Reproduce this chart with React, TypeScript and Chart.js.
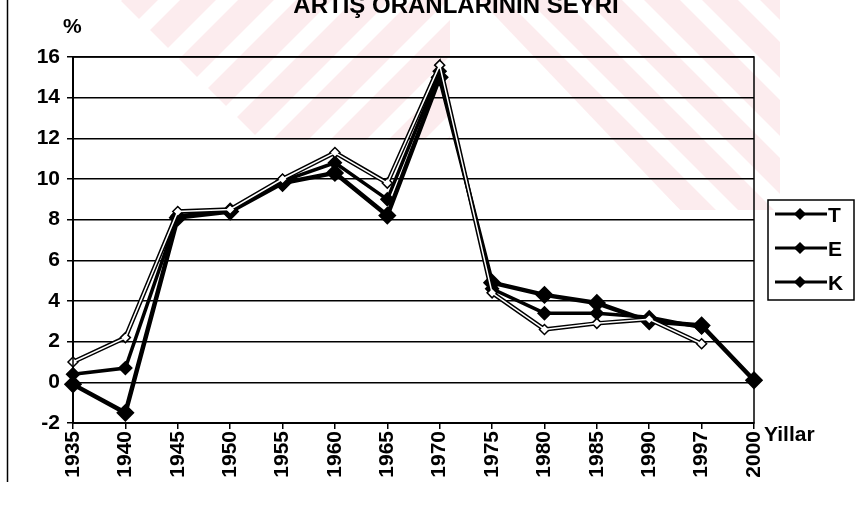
import React, { useEffect, useRef } from 'react';
import { Chart, registerables } from 'chart.js';

Chart.register(...registerables);

const FONT = '"Liberation Sans", Arial, Helvetica, sans-serif';
const TITLE = 'ARTIŞ ORANLARININ SEYRI';
const Y_UNIT = '%';
const X_UNIT = 'Yillar';

const years = ['1935', '1940', '1945', '1950', '1955', '1960', '1965', '1970', '1975', '1980', '1985', '1990', '1997', '2000'];
const seriesT = [0.4, 0.7, 8.2, 8.4, 9.9, 10.8, 9.0, 15.3, 4.6, 3.4, 3.4, 3.2, 2.7, null];
const seriesE = [1.0, 2.2, 8.4, 8.5, 10.0, 11.3, 9.8, 15.6, 4.4, 2.6, 2.9, 3.1, 1.9, null];
const seriesK = [-0.1, -1.5, 8.1, 8.4, 9.8, 10.3, 8.2, 15.0, 4.9, 4.3, 3.9, 3.0, 2.8, 0.1];
const legendLabels = ['T', 'E', 'K'];

function diamond(ctx: CanvasRenderingContext2D, x: number, y: number, r: number, fill: string) {
  ctx.beginPath();
  ctx.moveTo(x, y - r);
  ctx.lineTo(x + r, y);
  ctx.lineTo(x, y + r);
  ctx.lineTo(x - r, y);
  ctx.closePath();
  ctx.fillStyle = fill;
  ctx.fill();
  ctx.strokeStyle = '#000';
  ctx.lineWidth = 1.5;
  ctx.stroke();
}

function stripes(ctx: CanvasRenderingContext2D, poly: number[][], dir: number) {
  ctx.save();
  ctx.beginPath();
  poly.forEach(([x, y], i) => (i ? ctx.lineTo(x, y) : ctx.moveTo(x, y)));
  ctx.closePath();
  ctx.clip();
  ctx.fillStyle = 'rgba(225, 40, 70, 0.09)';
  for (let s = -400; s < 1300; s += 58) {
    ctx.beginPath();
    ctx.moveTo(s, 0);
    ctx.lineTo(s + 36, 0);
    ctx.lineTo(s + 36 + dir * 300, 300);
    ctx.lineTo(s + dir * 300, 300);
    ctx.closePath();
    ctx.fill();
  }
  ctx.restore();
}

export default function App() {
  const ref = useRef<HTMLCanvasElement>(null);

  useEffect(() => {
    document.body.style.margin = '0';
    const extras = {
      id: 'extras',
      beforeDraw(chart: any) {
        const ctx = chart.ctx as CanvasRenderingContext2D;
        ctx.save();
        ctx.fillStyle = '#fff';
        ctx.fillRect(0, 0, chart.width, chart.height);
        stripes(ctx, [[120, 0], [450, 0], [450, 140], [260, 140]], -1);
        stripes(ctx, [[480, 0], [780, 0], [780, 210], [680, 210]], 1);
        ctx.restore();
      },
      afterDraw(chart: any) {
        const ctx = chart.ctx as CanvasRenderingContext2D;
        const a = chart.chartArea;
        ctx.save();
        ctx.strokeStyle = '#000';
        ctx.lineWidth = 1.5;
        ctx.strokeRect(a.left, a.top, a.right - a.left, a.bottom - a.top);
        ctx.beginPath();
        ctx.moveTo(7.5, 0);
        ctx.lineTo(7.5, 482);
        ctx.stroke();

        ctx.fillStyle = '#000';
        ctx.textBaseline = 'alphabetic';
        ctx.font = `bold 24px ${FONT}`;
        ctx.textAlign = 'center';
        ctx.fillText(TITLE, 456, 13);
        ctx.font = `bold 21px ${FONT}`;
        ctx.textAlign = 'left';
        ctx.fillText(Y_UNIT, 63, 33);
        ctx.fillText(X_UNIT, a.right + 10, a.bottom + 18);

        // legend box
        const lx = a.right + 14;
        const ly = a.top + 143;
        ctx.lineWidth = 1.5;
        ctx.strokeStyle = '#000';
        ctx.strokeRect(lx, ly, 86, 100);
        ctx.font = `bold 21px ${FONT}`;
        legendLabels.forEach((lab, i) => {
          const y = ly + 14 + i * 34;
          ctx.beginPath();
          ctx.moveTo(lx + 7, y);
          ctx.lineTo(lx + 59, y);
          ctx.lineWidth = 3;
          ctx.stroke();
          diamond(ctx, lx + 32, y, 5, '#000');
          ctx.fillStyle = '#000';
          ctx.fillText(lab, lx + 60, y + 8);
        });
        ctx.restore();
      },
    };

    const chart = new Chart(ref.current as HTMLCanvasElement, {
      type: 'line',
      data: {
        labels: years,
        datasets: [
          {
            label: 'E-core',
            data: seriesE,
            borderColor: '#fff',
            borderWidth: 1.5,
            pointRadius: 0,
            order: 0,
          },
          {
            label: 'E',
            data: seriesE,
            borderColor: '#000',
            borderWidth: 4.5,
            pointStyle: 'rectRot',
            pointRadius: 5,
            pointBackgroundColor: '#fff',
            pointBorderColor: '#000',
            pointBorderWidth: 1.5,
            order: 1,
          },
          {
            label: 'T',
            data: seriesT,
            borderColor: '#000',
            borderWidth: 3.5,
            pointStyle: 'rectRot',
            pointRadius: 5,
            pointBackgroundColor: '#000',
            pointBorderColor: '#000',
            order: 2,
          },
          {
            label: 'K',
            data: seriesK,
            borderColor: '#000',
            borderWidth: 4.5,
            pointStyle: 'rectRot',
            pointRadius: 6,
            pointBackgroundColor: '#000',
            pointBorderColor: '#000',
            order: 3,
          },
        ],
      },
      options: {
        responsive: false,
        animation: false,
        devicePixelRatio: 1,
        layout: { padding: { top: 57, right: 114, bottom: 0, left: 0 } },
        plugins: {
          legend: { display: false },
          tooltip: { enabled: false },
          title: { display: false },
        },
        scales: {
          x: {
            offset: false,
            grid: {
              display: true,
              drawOnChartArea: false,
              drawTicks: true,
              tickLength: 6,
              color: '#000',
              lineWidth: 1.5,
            },
            border: { color: '#000', width: 2 },
            ticks: {
              color: '#000',
              font: { family: FONT, size: 21, weight: 'bold' },
              minRotation: 90,
              maxRotation: 90,
              padding: 2,
              autoSkip: false,
            },
            afterFit(s: any) {
              s.height = 86;
            },
          },
          y: {
            min: -2,
            max: 16,
            ticks: {
              stepSize: 2,
              color: '#000',
              font: { family: FONT, size: 21, weight: 'bold' },
              padding: 7,
            },
            grid: { color: '#000', lineWidth: 1.5, tickLength: 6 },
            border: { color: '#000', width: 2 },
            afterFit(s: any) {
              s.width = 73;
            },
          },
        },
      },
      plugins: [extras],
    } as any);
    return () => chart.destroy();
  }, []);

  return (
    <div style={{ position: 'absolute', left: 0, top: 0, width: 868, height: 509, background: '#fff' }}>
      <canvas ref={ref} width={868} height={509} style={{ display: 'block', width: 868, height: 509 }} />
    </div>
  );
}
